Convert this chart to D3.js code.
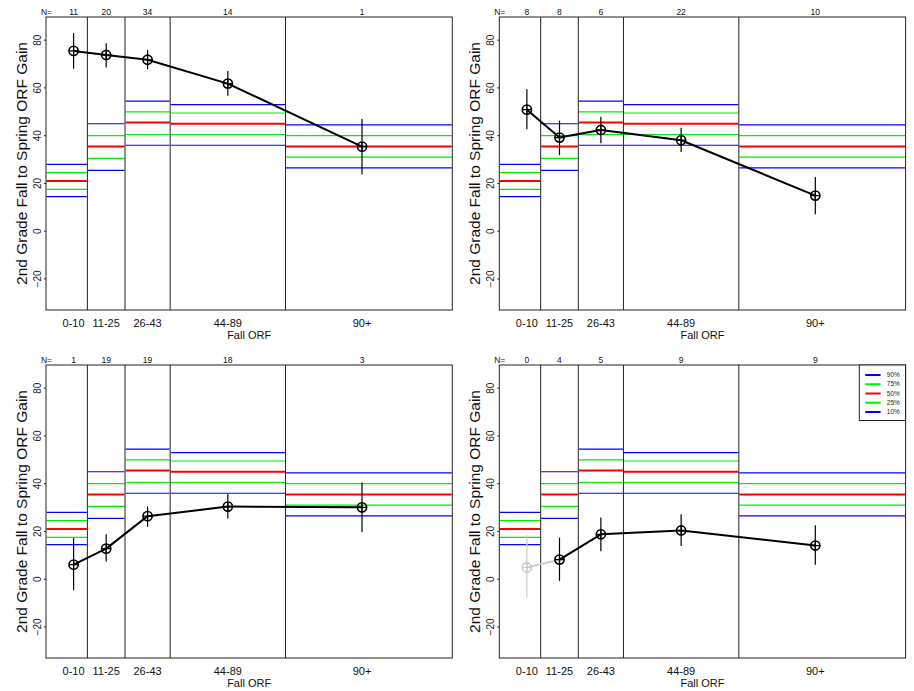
<!DOCTYPE html>
<html>
<head>
<meta charset="utf-8">
<script src="https://cdn.jsdelivr.net/npm/d3@7"></script>
<style>
body { margin: 0; background: #fff; }
svg { font-family: "Liberation Sans", Arial, sans-serif; }
</style>
</head>
<body>
<svg id="chart" width="914" height="691"></svg>
<script>
// categories of fall ORF and their x positions (fall ORF units)
var categories = ["0-10", "11-25", "26-43", "44-89", "90+"];
var catMid = [5, 18, 34.5, 66.5, 120];
var catBounds = [10.5, 25.5, 43.5, 89.5];
var yTicks = [-20, 0, 20, 40, 60, 80];

// norm percentiles per category (same in every panel)
var p90 = [28, 45, 54.5, 53, 44.5];
var p75 = [24.5, 40, 50, 49.5, 40];
var p50 = [21, 35.5, 45.5, 45, 35.5];
var p25 = [17.5, 30.5, 40.5, 40.5, 31];
var p10 = [14.5, 25.5, 36, 36, 26.5];

// panel data: N, mean gain, lower and upper error bar
var n1 = [11, 20, 34, 14, 1];
var mean1 = [75.5, 73.8, 71.8, 61.8, 35.4];
var lo1 = [68, 68.6, 67.8, 56.7, 23.7];
var hi1 = [83, 78.7, 75.9, 67.1, 47];

var n2 = [8, 8, 6, 22, 10];
var mean2 = [50.9, 39.2, 42.4, 38.1, 14.9];
var lo2 = [42.7, 31.8, 36.8, 33.2, 7.1];
var hi2 = [59.4, 46.3, 47.9, 43.3, 22.7];

var n3 = [1, 19, 19, 18, 3];
var mean3 = [6.1, 12.8, 26.4, 30.4, 30.1];
var lo3 = [-4.6, 7.4, 21.9, 25.4, 19.8];
var hi3 = [17.3, 18.8, 30.5, 35.6, 40.5];

var n4 = [0, 4, 5, 9, 9];
var mean4 = [4.9, 8.2, 18.8, 20.4, 14.1];
var lo4 = [-7.7, -0.7, 11.7, 13.9, 6.0];
var hi4 = [18.4, 17.4, 25.8, 27.2, 22.6];

var pctLabels = ["90%", "75%", "50%", "25%", "10%"];
var pctColors = ["#0000ff", "#00ee00", "#ff0000", "#00ee00", "#0000ff"];
var pctWidths = [1.2, 1.2, 2, 1.2, 1.2];

var svg = d3.select("#chart");
var pw = 406.3, ph = 293;

var panels = [
	{ left: 46, top: 17, n: n1, mean: mean1, lo: lo1, hi: hi1 },
	{ left: 499.3, top: 17, n: n2, mean: mean2, lo: lo2, hi: hi2 },
	{ left: 46, top: 365, n: n3, mean: mean3, lo: lo3, hi: hi3 },
	{ left: 499.3, top: 365, n: n4, mean: mean4, lo: lo4, hi: hi4, legend: true }
];

panels.forEach(function(p) { drawPanel(p); });

function drawPanel(p) {
	var g = svg.append("g")
		.attr("transform", "translate(" + p.left + "," + p.top + ")");

	var x = d3.scaleLinear().domain([-6, 156]).range([0, pw]);
	var y = d3.scaleLinear().domain([-33, 89.7]).range([ph, 0]);

	// column edges
	var edges = [x.domain()[0]].concat(catBounds, [x.domain()[1]]);

	// percentile lines
	var pcts = [p90, p75, p50, p25, p10];
	pcts.forEach(function(arr, k) {
		g.selectAll(".pct" + k)
			.data(arr)
		  .enter()
			.append("line")
			.attr("x1", function(d, i) { return x(edges[i]) + 0.5; })
			.attr("x2", function(d, i) { return x(edges[i + 1]) - 0.5; })
			.attr("y1", function(d) { return y(d); })
			.attr("y2", function(d) { return y(d); })
			.attr("stroke", pctColors[k])
			.attr("stroke-width", pctWidths[k]);
	});

	// column dividers
	g.selectAll(".divider")
		.data(catBounds)
	  .enter()
		.append("line")
		.attr("x1", function(d) { return x(d); })
		.attr("x2", function(d) { return x(d); })
		.attr("y1", 0)
		.attr("y2", ph)
		.attr("stroke", "#222")
		.attr("stroke-width", 1);

	// box
	g.append("rect")
		.attr("x", 0).attr("y", 0)
		.attr("width", pw).attr("height", ph)
		.attr("fill", "none")
		.attr("stroke", "#222")
		.attr("stroke-width", 1);

	// y axis
	var yAxis = d3.axisLeft(y).tickValues(yTicks).tickSize(2).tickPadding(3);
	var ay = g.append("g").call(yAxis);
	ay.select(".domain").remove();
	ay.selectAll("text")
		.attr("transform", function(d) { return "rotate(-90," + (-5) + "," + y(d) + ")"; })
		.attr("x", -5)
		.attr("y", y)
		.attr("dy", "0")
		.attr("text-anchor", "middle")
		.style("font-size", "10px")
		.style("font-family", "Liberation Sans, Arial, sans-serif")
		.attr("fill", "#222");
	ay.selectAll(".tick").attr("transform", null);
	ay.selectAll(".tick line")
		.attr("y1", y).attr("y2", y)
		.attr("stroke", "#222");

	g.append("text")
		.attr("transform", "translate(" + (-19) + "," + (ph / 2) + ") rotate(-90)")
		.attr("text-anchor", "middle")
		.style("font-size", "15.5px")
		.attr("fill", "#111")
		.text("2nd Grade Fall to Spring ORF Gain");

	// x category labels
	g.selectAll(".cat")
		.data(categories)
	  .enter()
		.append("text")
		.attr("x", function(d, i) { return x(catMid[i]); })
		.attr("y", ph + 16.5)
		.attr("text-anchor", "middle")
		.style("font-size", "11px")
		.attr("fill", "#111")
		.text(function(d) { return d; });

	g.append("text")
		.attr("x", pw / 2)
		.attr("y", ph + 29)
		.attr("text-anchor", "middle")
		.style("font-size", "11px")
		.attr("fill", "#111")
		.text("Fall ORF");

	// N counts
	g.append("text")
		.attr("x", 6).attr("y", -2)
		.attr("text-anchor", "end")
		.style("font-size", "8.5px")
		.attr("fill", "#111")
		.text("N=");
	g.selectAll(".ncount")
		.data(p.n)
	  .enter()
		.append("text")
		.attr("x", function(d, i) { return x(catMid[i]); })
		.attr("y", -2)
		.attr("text-anchor", "middle")
		.style("font-size", "8.5px")
		.attr("fill", "#111")
		.text(function(d) { return d; });

	// connecting line, faded where N = 0
	var colorOf = function(i) { return p.n[i] === 0 ? "#cccccc" : "#000"; };
	for (var i = 0; i < p.mean.length - 1; i++) {
		var faded = p.n[i] === 0 || p.n[i + 1] === 0;
		g.append("line")
			.attr("x1", x(catMid[i])).attr("y1", y(p.mean[i]))
			.attr("x2", x(catMid[i + 1])).attr("y2", y(p.mean[i + 1]))
			.attr("stroke", faded ? "#cccccc" : "#000")
			.attr("stroke-width", 2);
	}

	// error bars
	g.selectAll(".err")
		.data(p.mean)
	  .enter()
		.append("line")
		.attr("x1", function(d, i) { return x(catMid[i]); })
		.attr("x2", function(d, i) { return x(catMid[i]); })
		.attr("y1", function(d, i) { return y(p.lo[i]); })
		.attr("y2", function(d, i) { return y(p.hi[i]); })
		.attr("stroke", function(d, i) { return colorOf(i); })
		.attr("stroke-width", 1.2);

	// circle-plus markers
	var mk = g.selectAll(".mk")
		.data(p.mean)
	  .enter()
		.append("g")
		.attr("transform", function(d, i) { return "translate(" + x(catMid[i]) + "," + y(d) + ")"; });
	mk.append("circle")
		.attr("r", 4.6)
		.attr("fill", "none")
		.attr("stroke", function(d, i) { return colorOf(i); })
		.attr("stroke-width", 1.6);
	mk.append("path")
		.attr("d", "M-4.6,0H4.6M0,-4.6V4.6")
		.attr("stroke", function(d, i) { return colorOf(i); })
		.attr("stroke-width", 1.2);

	// legend
	if (p.legend) {
		var lg = g.append("g").attr("transform", "translate(" + (pw - 46.3) + ",0)");
		lg.append("rect")
			.attr("x", 0).attr("y", 0)
			.attr("width", 46.3).attr("height", 55.5)
			.attr("fill", "#fff")
			.attr("stroke", "#222");
		var rows = lg.selectAll(".lrow")
			.data(pctLabels)
		  .enter()
			.append("g")
			.attr("transform", function(d, i) { return "translate(0," + (10 + i * 9.25) + ")"; });
		rows.append("line")
			.attr("x1", 6).attr("x2", 21.3)
			.attr("y1", 0).attr("y2", 0)
			.attr("stroke", function(d, i) { return pctColors[i]; })
			.attr("stroke-width", 2);
		rows.append("text")
			.attr("x", 27.5).attr("y", 2.2)
			.style("font-size", "6.5px")
			.attr("fill", "#222")
			.text(function(d) { return d; });
	}
}
</script>
</body>
</html>
